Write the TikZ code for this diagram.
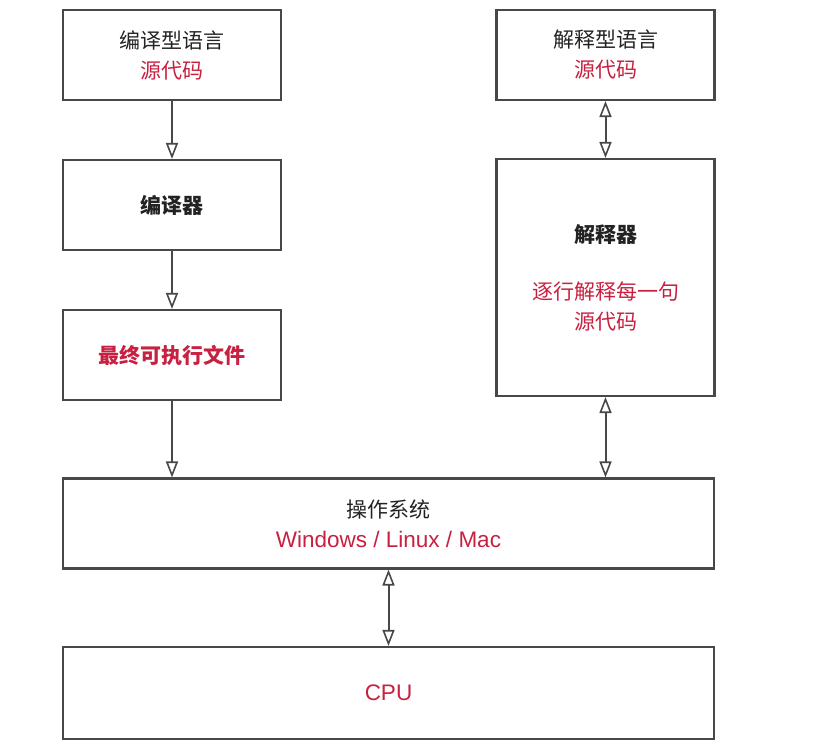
\documentclass[tikz,border=0pt]{standalone}
\usepackage{fontspec}
\setmainfont{Noto Sans CJK SC}
\newfontfamily\latinfont{Liberation Sans}
\usetikzlibrary{arrows.meta,positioning}
\definecolor{srcred}{RGB}{200,32,64}
\definecolor{boxgray}{RGB}{72,72,72}
\definecolor{inkblack}{RGB}{34,34,34}
\newcommand{\latintext}[1]{{\latinfont\fontsize{22.5}{30}\selectfont\textcolor{srcred}{#1}}}

\begin{document}
\begin{tikzpicture}[x=1pt,y=-1pt,
    every node/.style={font=\fontsize{21}{30}\selectfont,text=inkblack},
    hollow/.tip={Triangle[open,length=16pt,width=12pt,line width=1.6pt]},
    box/.style={draw=boxgray,line width=2.1pt,minimum width=218pt,
                minimum height=90pt,align=center,inner sep=0pt},
    wide/.style={box,minimum width=651pt},
    link/.style={draw=boxgray,line width=2pt,-hollow},
    dlink/.style={draw=boxgray,line width=2pt,hollow-hollow}]
      \useasboundingbox (0,0) rectangle (833,747);

      % compiled language (left column)
      \node[box] (csrc) at (172,55)
        {编译型语言\\\textcolor{srcred}{源代码}};
      \node[box] (comp) at (172,205) {\textbf{编译器}};
      \node[box] (exe) at (172,355)
        {\textcolor{srcred}{\textbf{最终可执行文件}}};

      % interpreted language (right column)
      \node[box] (isrc) at (605.5,55)
        {解释型语言\\\textcolor{srcred}{源代码}};
      \node[box,minimum height=237pt] (interp) at (605.5,277.5)
        {\textbf{解释器}\\[27pt]
         \textcolor{srcred}{逐行解释每一句}\\
         \textcolor{srcred}{源代码}};

      % system and hardware
      \node[wide] (os) at (388.5,523.5)
        {操作系统\\\latintext{Windows / Linux / Mac}};
      \node[wide,minimum height=92pt] (cpu) at (388.5,693)
        {\latintext{CPU}};

      \draw[link] (csrc) -- (comp);
      \draw[link] (comp) -- (exe);
      \draw[link] (exe) -- (exe.south |- os.north);
      \draw[dlink] (isrc) -- (interp);
      \draw[dlink] (interp) -- (interp.south |- os.north);
      \draw[dlink] (os) -- (cpu);
    \end{tikzpicture}
\end{document}
